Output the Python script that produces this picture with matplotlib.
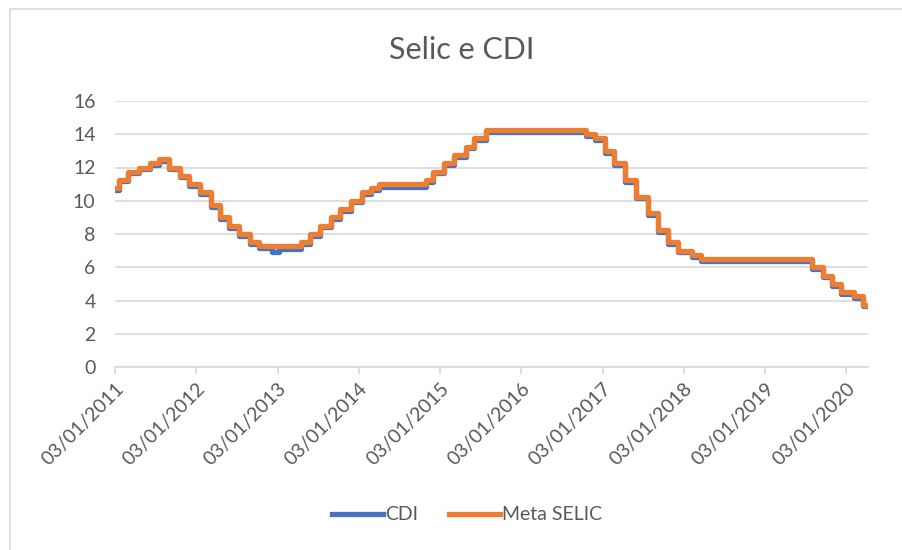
import matplotlib
matplotlib.use("Agg")
import matplotlib.pyplot as plt
from matplotlib.patches import Rectangle
import numpy as np
import pandas as pd

# Meta SELIC - dates where the target changed, and the new target
selic_dates = ['2011-01-03', '2011-01-20', '2011-03-03', '2011-04-21', '2011-06-09',
               '2011-07-21', '2011-09-01', '2011-10-20', '2011-12-01', '2012-01-19',
               '2012-03-08', '2012-04-19', '2012-05-31', '2012-07-12', '2012-08-30',
               '2012-10-11', '2013-04-18', '2013-05-30', '2013-07-11', '2013-08-29',
               '2013-10-10', '2013-11-28', '2014-01-16', '2014-02-27', '2014-04-03',
               '2014-10-30', '2014-12-04', '2015-01-22', '2015-03-05', '2015-04-30',
               '2015-06-04', '2015-07-30', '2016-10-20', '2016-12-01', '2017-01-12',
               '2017-02-23', '2017-04-13', '2017-06-01', '2017-07-27', '2017-09-07',
               '2017-10-26', '2017-12-07', '2018-02-08', '2018-03-22', '2019-08-01',
               '2019-09-19', '2019-10-31', '2019-12-12', '2020-02-06', '2020-03-19']
selic = [10.75, 11.25, 11.75, 12.0, 12.25, 12.5, 12.0, 11.5, 11.0, 10.5,
         9.75, 9.0, 8.5, 8.0, 7.5, 7.25, 7.5, 8.0, 8.5, 9.0,
         9.5, 10.0, 10.5, 10.75, 11.0, 11.25, 11.75, 12.25, 12.75, 13.25,
         13.75, 14.25, 14.0, 13.75, 13.0, 12.25, 11.25, 10.25, 9.25, 8.25,
         7.5, 7.0, 6.75, 6.5, 6.0, 5.5, 5.0, 4.5, 4.25, 3.75]

# CDI - sits a little under the target, with a dip around the turn of 2013
cdi_dates = ['2011-01-03', '2011-01-20', '2011-03-03', '2011-04-21', '2011-06-09',
             '2011-07-21', '2011-09-01', '2011-10-20', '2011-12-01', '2012-01-19',
             '2012-03-08', '2012-04-19', '2012-05-31', '2012-07-12', '2012-08-30',
             '2012-10-11', '2012-12-10', '2013-01-10', '2013-04-18', '2013-05-30',
             '2013-07-11', '2013-08-29', '2013-10-10', '2013-11-28', '2014-01-16',
             '2014-02-27', '2014-04-03', '2014-10-30', '2014-12-04', '2015-01-22',
             '2015-03-05', '2015-04-30', '2015-06-04', '2015-07-30', '2016-10-20',
             '2016-12-01', '2017-01-12', '2017-02-23', '2017-04-13', '2017-06-01',
             '2017-07-27', '2017-09-07', '2017-10-26', '2017-12-07', '2018-02-08',
             '2018-03-22', '2019-08-01', '2019-09-19', '2019-10-31', '2019-12-12',
             '2020-02-06', '2020-03-19']
cdi = [10.64, 11.17, 11.67, 11.92, 12.17, 12.42, 11.9, 11.4, 10.9, 10.4,
       9.65, 8.9, 8.39, 7.85, 7.39, 7.14, 6.9, 7.12, 7.4, 7.9,
       8.4, 8.9, 9.4, 9.9, 10.4, 10.65, 10.8, 11.15, 11.65, 12.15,
       12.65, 13.15, 13.65, 14.13, 13.9, 13.65, 12.9, 12.15, 11.15, 10.15,
       9.15, 8.15, 7.4, 6.9, 6.64, 6.4, 5.9, 5.4, 4.9, 4.4,
       4.15, 3.65]

end_date = '2020-04-10'
tick_dates = ['03/01/%d' % y for y in range(2011, 2021)]

grey = '#595959'
plt.rcParams['font.family'] = ['Lato', 'DejaVu Sans']

fig = plt.figure(figsize=(9.03, 5.5), dpi=100)
# light chart-area frame, as in the spreadsheet export
fig.patches.append(Rectangle((10 / 903, -0.01), 1.0, 1 - 9 / 550 + 0.01,
                             transform=fig.transFigure, fill=False,
                             edgecolor='#D9D9D9', linewidth=1.2))
ax = fig.add_axes([115 / 903, 1 - 367 / 550, (868 - 115) / 903, (367 - 101) / 550])

sx = pd.to_datetime(selic_dates + [end_date])
sy = selic + [selic[-1]]
cx = pd.to_datetime(cdi_dates + [end_date])
cy = cdi + [cdi[-1]]

ax.step(cx, cy, where='post', color='#4472C4', lw=3.8, label='CDI')
ax.step(sx, sy, where='post', color='#ED7D31', lw=3.8, label='Meta SELIC')

ax.set_ylim(0, 16)
ax.set_yticks(np.arange(0, 17, 2))
ax.set_xlim(pd.Timestamp('2011-01-03'), pd.Timestamp(end_date))
ticks = pd.to_datetime(tick_dates, format='%d/%m/%Y')
ax.set_xticks(ticks)
ax.set_xticklabels(tick_dates, rotation=45, ha='right', rotation_mode='anchor')

ax.grid(axis='y', color='#D9D9D9', lw=1.2)
ax.set_axisbelow(True)
for s in ['top', 'right', 'left']:
    ax.spines[s].set_visible(False)
ax.spines['bottom'].set_color('#D9D9D9')
ax.spines['bottom'].set_linewidth(1.2)
ax.tick_params(axis='y', length=0, labelsize=14, labelcolor=grey, pad=14)
ax.tick_params(axis='x', length=5, color='#D9D9D9', width=1.2,
               labelsize=14, labelcolor=grey, pad=4)

fig.text(462 / 903, 1 - 50 / 550, 'Selic e CDI', ha='center', va='center',
         fontsize=22, color=grey)
fig.legend(loc='center', bbox_to_anchor=(467 / 903, 1 - 515 / 550), ncol=2,
           frameon=False, fontsize=14, labelcolor=grey, handlelength=2.6,
           handletextpad=0.1, columnspacing=1.6)

plt.savefig('out.png', dpi=100)
plt.close()
